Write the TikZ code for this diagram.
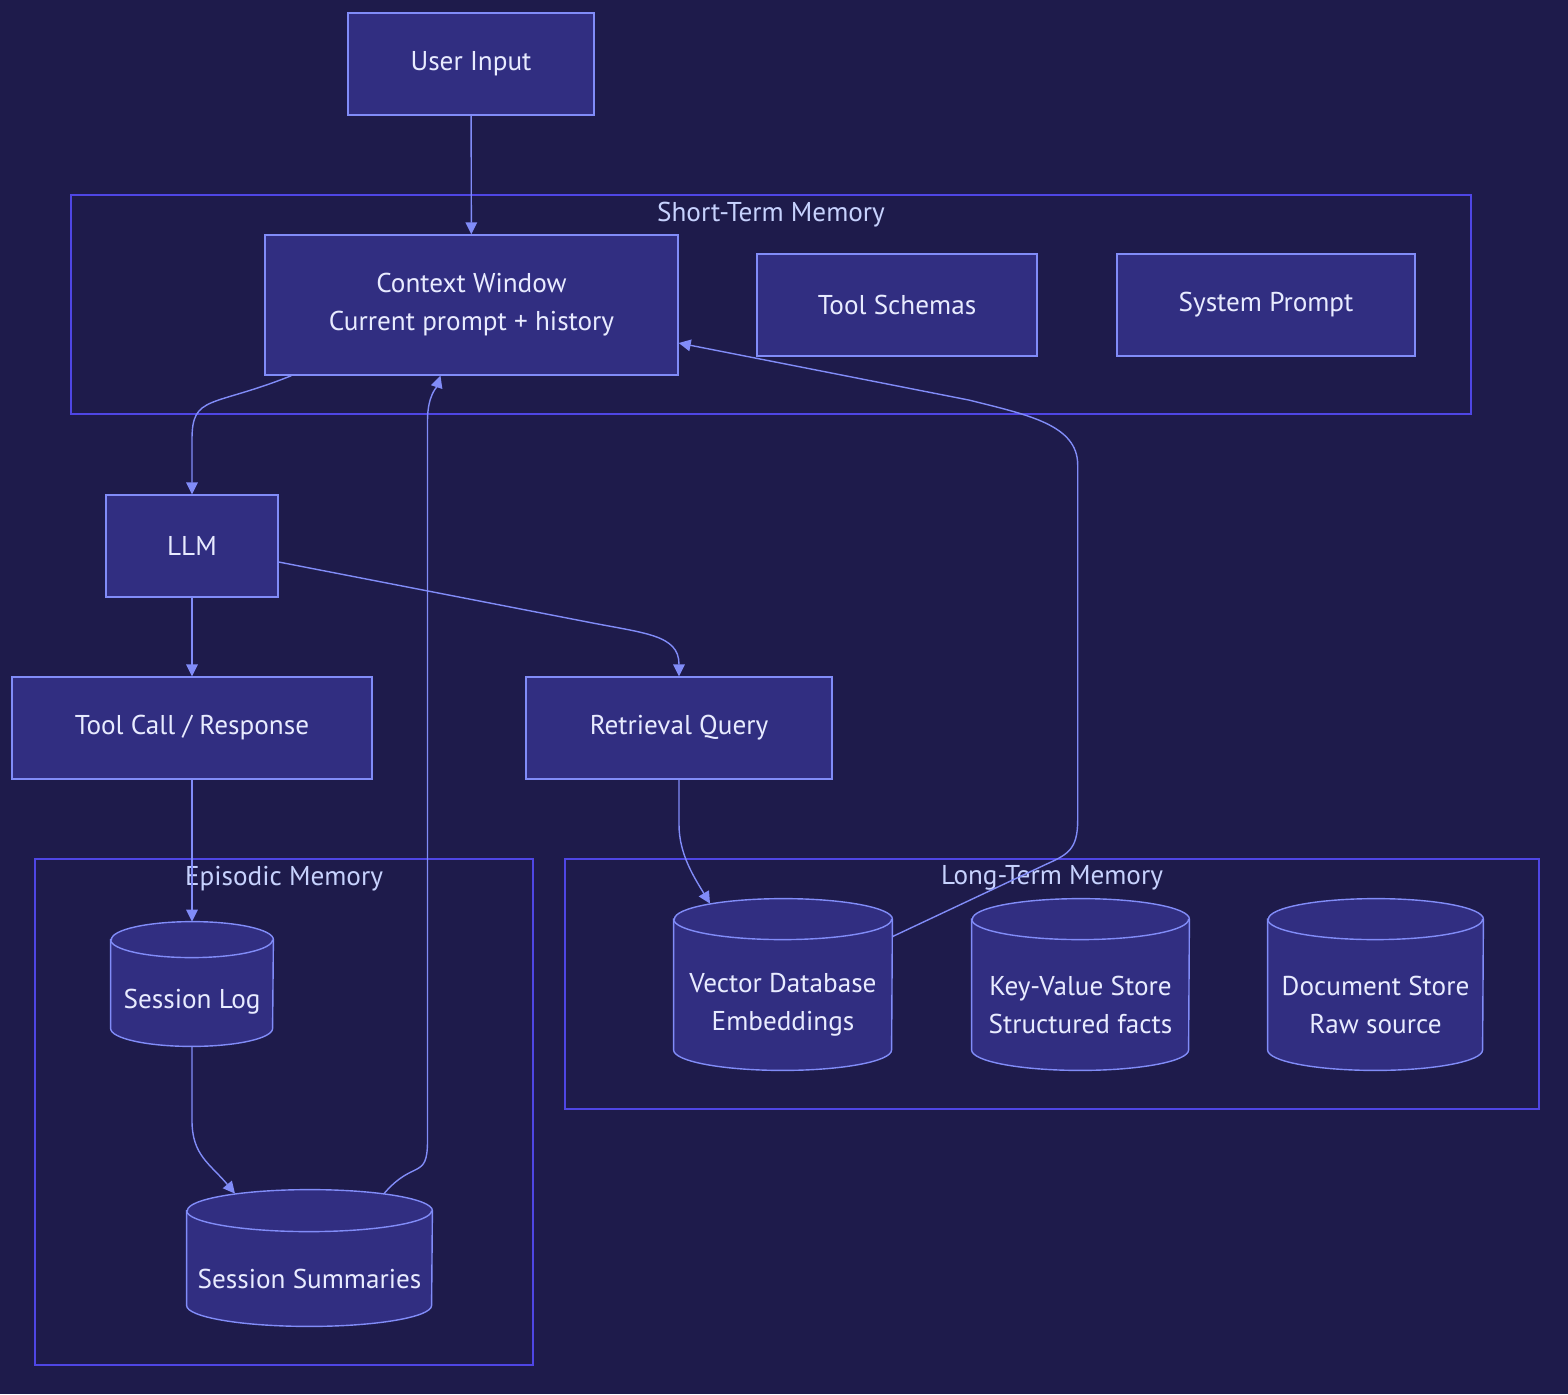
\documentclass[tikz,border=0pt]{standalone}
\usepackage{fontspec}
\setmainfont{PT Sans}
\usetikzlibrary{positioning,arrows.meta,calc}
\definecolor{bg}{HTML}{1E1B4B}
\definecolor{nodefill}{HTML}{312E81}
\definecolor{nodeline}{HTML}{818CF8}
\definecolor{clusterline}{HTML}{4F46E5}
\definecolor{nodetext}{HTML}{E8EBFF}
\definecolor{clustertext}{HTML}{C7D2FE}
\tikzset{
    box/.style={
        draw=nodeline,
        fill=nodefill,
        line width=0.7pt,
        text=nodetext,
        minimum height=51pt,
        align=center,
        font=\fontsize{13.6}{19}\selectfont
    },
    store/.style={
        text=nodetext,
        align=center,
        inner sep=0pt,
        font=\fontsize{13.6}{19}\selectfont
    },
    storeshape/.style={
        draw=nodeline,
        fill=nodefill,
        line width=0.7pt
    },
    cluster/.style={
        draw=clusterline,
        line width=0.7pt
    },
    clusterlabel/.style={
        text=clustertext,
        font=\fontsize{13.6}{19}\selectfont
    },
    edge/.style={
        -{Triangle[length=6pt,width=5.8pt]},
        draw=nodeline,
        line width=0.7pt
    }
}

\begin{document}
\begin{tikzpicture}[x=0.5pt,y=-0.5pt]

\fill[bg] (0,0) rectangle (1568,1394);

% subgraphs
\node[cluster, minimum width=700pt, minimum height=109.5pt] (stm) at (771,304.5) {};
\node[cluster, minimum width=249pt, minimum height=253pt] (epi) at (284,1112) {};
\node[cluster, minimum width=487pt, minimum height=125pt] (ltm) at (1052,984) {};
\node[clusterlabel] at ($(stm.north)+(0,20)$) {Short-Term Memory};
\node[clusterlabel] at ($(epi.north)+(0,20)$) {Episodic Memory};
\node[clusterlabel] at ($(ltm.north)+(0,20)$) {Long-Term Memory};

% boxes
\node[box, minimum width=123pt] (ui) at (471,64) {User Input};
\node[box, minimum width=206.5pt, minimum height=70pt] (cw) at (471.5,305) {Context Window\\Current prompt + history};
\node[box, minimum width=140pt] (ts) at (897,305) {Tool Schemas};
\node[box, minimum width=149pt] (sp) at (1266,305) {System Prompt};
\node[box, minimum width=86pt] (llm) at (192,546) {LLM};
\node[box, minimum width=180pt] (tc) at (192,728) {Tool Call / Response};
\node[box, minimum width=153pt] (rq) at (679,728) {Retrieval Query};

% stores: the node is the body below the top lid
\node[store, minimum width=81pt, minimum height=44pt] (sl) at (192,1002) {};
\node[store, minimum width=122.5pt, minimum height=47pt] (ss) at (309.5,1279) {};
\node[store, minimum width=109pt, minimum height=65pt] (vd) at (783,1005) {};
\node[store, minimum width=108.5pt, minimum height=65pt] (kv) at (1080.5,1005) {};
\node[store, minimum width=107.5pt, minimum height=65pt] (ds) at (1375.5,1005) {};
\foreach \n/\rx/\ry in {sl/40.5/18, ss/61.25/21, vd/54.5/20.5, kv/54.25/20.5, ds/53.75/20.5} {
    \draw[storeshape] ($(\n.north west)+(0,-\ry)$) -- ($(\n.south west)+(0,-\ry)$)
        arc[start angle=180, end angle=360, x radius=\rx pt, y radius=\ry*0.5pt]
        -- ($(\n.north east)+(0,-\ry)$)
        arc[start angle=0, end angle=180, x radius=\rx pt, y radius=\ry*0.5pt] -- cycle;
    \draw[storeshape, fill=none] ($(\n.north west)+(0,-\ry)$)
        arc[start angle=180, end angle=360, x radius=\rx pt, y radius=\ry*0.5pt];
}
\node[store] at (sl) {Session Log};
\node[store] at (ss) {Session Summaries};
\node[store] at (vd) {Vector Database\\Embeddings};
\node[store] at (kv) {Key-Value Store\\Structured facts};
\node[store] at (ds) {Document Store\\Raw source};

% edges
\draw[edge] (ui) -- (cw);
\draw[edge] ($(cw.south west)+(27,0)$) .. controls +(-80,32) and +(0,-45) .. ($(llm.north)+(0,-55)$) -- (llm);
\draw[edge] (llm) -- (tc);
\draw[edge] ($(llm.east)+(0,16)$) -- ($(rq.north)+(-95,-55)$) .. controls +(60,12) and +(0,-30) .. ($(rq.north)+(0,-12)$) -- (rq);
\draw[edge] (tc) -- ($(sl.north)+(0,-36)$);
\draw[edge] (sl.south) -- ($(sl.south)+(0,74)$) .. controls +(0,35) and +(-25,-30) .. ($(ss.north)+(-74.5,-38)$);
\draw[edge] ($(ss.north)+(74.5,-38)$) .. controls +(30,-35) and +(0,40) .. ($(cw.south)+(-44,765)$) -- ($(cw.south)+(-44,45)$) .. controls +(0,-25) and +(-4,12) .. ($(cw.south)+(-31,0)$);
\draw[edge] (rq) -- ($(rq.south)+(0,45)$) .. controls +(0,30) and +(-15,-25) .. ($(vd.north)+(-73,-36)$);
\draw[edge] ($(vd.north east)+(0,-3)$) -- ($(vd.north east)+(153,-75)$) .. controls +(22,-10) and +(0,30) .. ($(cw.east)+(399,515)$) -- ($(cw.east)+(399,160)$) .. controls +(0,-40) and +(60,15) .. ($(cw.east)+(290,95)$) -- ($(cw.east)+(0,38)$);

\end{tikzpicture}
\end{document}
